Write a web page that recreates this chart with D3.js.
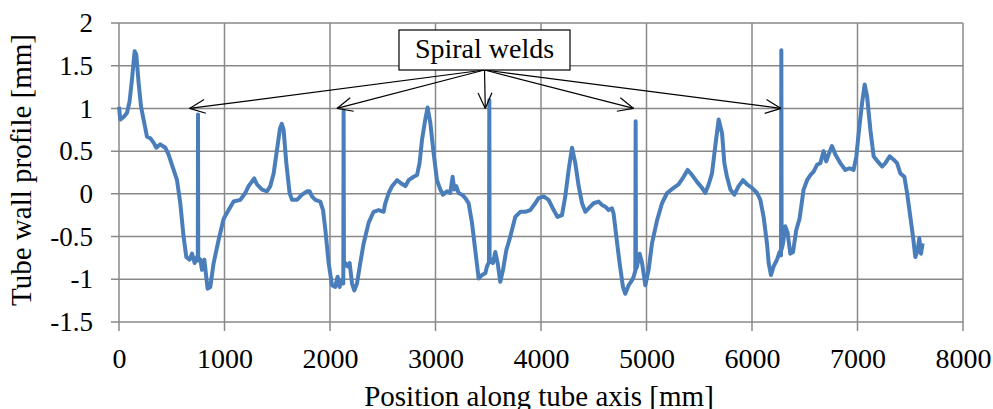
<!DOCTYPE html>
<html>
<head>
<meta charset="utf-8">
<title>tube wall profile</title>
<script type="text/javascript" src="https://cdn.jsdelivr.net/npm/d3@7"></script>
<style>
body{margin:0;background:#fff;}
text{font-family:"Liberation Serif","Times New Roman",serif;fill:#000;}
</style>
</head>
<body>
<script type="text/javascript">

var pos = [0,12,44,76,100,123,148,164,186,209,233,265,297,328,354,391,439,470,502,550,581,612,638,669,692,717,739,747,749,751,771,787,809,827,840,865,897,944,992,1039,1086,1150,1197,1228,1282,1308,1356,1403,1434,1466,1498,1525,1543,1560,1586,1617,1640,1687,1735,1782,1807,1829,1861,1908,1934,1956,1987,2019,2050,2072,2091,2107,2126,2129,2132,2145,2167,2186,2209,2230,2256,2287,2319,2366,2413,2461,2508,2524,2556,2588,2635,2666,2714,2745,2793,2825,2849,2872,2903,2925,2951,2982,3014,3046,3071,3109,3140,3162,3178,3197,3219,3251,3283,3314,3346,3377,3409,3441,3472,3488,3507,3510,3513,3529,3545,3567,3589,3614,3640,3671,3709,3756,3804,3851,3898,3946,3977,4025,4072,4120,4157,4199,4230,4262,4294,4325,4357,4389,4420,4467,4499,4546,4578,4610,4641,4673,4688,4714,4745,4777,4799,4831,4863,4878,4894,4897,4900,4910,4935,4958,4989,5020,5052,5100,5147,5195,5257,5304,5352,5390,5432,5479,5526,5557,5589,5621,5652,5684,5716,5738,5763,5795,5833,5873,5915,5953,6000,6048,6079,6110,6142,6158,6180,6205,6237,6262,6275,6278,6281,6294,6316,6338,6363,6389,6420,6451,6489,6522,6553,6584,6616,6648,6679,6704,6726,6758,6790,6837,6885,6925,6963,6989,7011,7043,7068,7091,7122,7153,7191,7233,7264,7305,7343,7375,7406,7444,7470,7501,7526,7548,7570,7586,7602,7617];
var profile = [1.02,0.87,0.90,0.95,1.08,1.34,1.67,1.63,1.30,1.02,0.87,0.67,0.65,0.60,0.54,0.58,0.54,0.46,0.34,0.16,-0.11,-0.50,-0.74,-0.77,-0.70,-0.81,-0.74,-0.78,0.93,-0.75,-0.77,-0.89,-0.77,-0.97,-1.11,-1.09,-0.81,-0.54,-0.29,-0.19,-0.09,-0.07,0.01,0.09,0.18,0.11,0.05,0.03,0.09,0.24,0.52,0.76,0.82,0.75,0.36,0.01,-0.07,-0.07,-0.01,0.03,0.03,-0.03,-0.07,-0.09,-0.19,-0.42,-0.81,-1.07,-1.09,-0.97,-1.09,-1.01,-1.05,0.97,-0.85,-0.81,-0.85,-0.81,-1.05,-1.13,-1.05,-0.81,-0.58,-0.34,-0.21,-0.19,-0.21,-0.11,0.01,0.09,0.16,0.13,0.09,0.16,0.20,0.22,0.36,0.63,0.87,1.01,0.83,0.48,0.16,0.05,-0.01,0.03,0.01,0.20,0.05,0.09,0.01,-0.01,-0.05,-0.11,-0.34,-0.66,-0.99,-0.95,-0.93,-0.85,-0.80,1.10,-0.80,-0.77,-0.81,-0.68,-0.81,-1.03,-0.89,-0.66,-0.50,-0.27,-0.21,-0.21,-0.19,-0.11,-0.05,-0.03,-0.07,-0.19,-0.27,-0.25,-0.03,0.28,0.54,0.36,0.09,-0.11,-0.21,-0.15,-0.11,-0.09,-0.13,-0.15,-0.19,-0.17,-0.23,-0.50,-0.81,-1.09,-1.17,-1.07,-1.01,-0.97,-0.90,0.85,-0.88,-0.85,-0.70,-0.81,-1.07,-0.89,-0.58,-0.31,-0.11,0.01,0.07,0.11,0.20,0.28,0.22,0.14,0.07,0.01,0.11,0.24,0.56,0.87,0.71,0.36,0.20,0.05,-0.01,0.09,0.16,0.11,0.07,0.01,-0.07,-0.27,-0.58,-0.81,-0.95,-0.85,-0.77,-0.68,-0.72,1.68,-0.65,-0.58,-0.38,-0.46,-0.70,-0.68,-0.42,-0.29,0.05,0.16,0.22,0.26,0.34,0.36,0.50,0.38,0.46,0.56,0.46,0.36,0.28,0.30,0.28,0.44,0.71,1.06,1.28,1.14,0.75,0.44,0.38,0.32,0.36,0.44,0.40,0.36,0.24,0.20,0.01,-0.27,-0.50,-0.74,-0.66,-0.52,-0.70,-0.58];

var xTicks = [0,1000,2000,3000,4000,5000,6000,7000,8000];
var yTicks = [2,1.5,1,0.5,0,-0.5,-1,-1.5];
var weldPos = [669,2066,3472,4878,6275];
var weldLevel = 1.0;
var labelText = "Spiral welds";

var width = 993, height = 409,
	pl = 119, pr = 963, pt = 23, pb = 322;

var x = d3.scaleLinear().domain([0,8000]).range([pl,pr]);
var y = d3.scaleLinear().domain([-1.5,2]).range([pb,pt]);

var svg = d3.select("body").append("svg")
	.attr("width",width)
	.attr("height",height);

// grid
svg.append("g").selectAll("line")
	.data(xTicks)
	.enter().append("line")
	.attr("x1",function(d){return x(d);})
	.attr("x2",function(d){return x(d);})
	.attr("y1",pt).attr("y2",pb+9)
	.attr("stroke","#888").attr("stroke-width",1.5);
svg.append("g").selectAll("line")
	.data(yTicks)
	.enter().append("line")
	.attr("y1",function(d){return y(d);})
	.attr("y2",function(d){return y(d);})
	.attr("x1",pl-8).attr("x2",pr)
	.attr("stroke","#888").attr("stroke-width",1.5);

var ax = d3.axisBottom(x).tickValues(xTicks).tickSize(0).tickFormat(d3.format("d"));
svg.append("g")
	.attr("transform","translate(0,"+pb+")")
	.call(ax)
	.call(function(g){g.select(".domain").remove();})
	.selectAll("text")
	.attr("dy","0")
	.attr("y",46)
	.style("font-size","28px");

var ay = d3.axisLeft(y).tickValues(yTicks).tickSize(0).tickPadding(26).tickFormat(function(d){return String(d);});
svg.append("g")
	.attr("transform","translate("+pl+",0)")
	.call(ay)
	.call(function(g){g.select(".domain").remove();})
	.selectAll("text")
	.style("font-size","27px");

svg.append("text")
	.attr("x",539).attr("y",406)
	.attr("text-anchor","middle")
	.style("font-size","29px")
	.text("Position along tube axis [mm]");

svg.append("text")
	.attr("transform","translate(31,170) rotate(-90)")
	.attr("text-anchor","middle")
	.style("font-size","29px")
	.text("Tube wall profile [mm]");

var line = d3.line()
	.x(function(d){return x(d[0]);})
	.y(function(d){return y(d[1]);});

svg.append("path")
	.datum(d3.zip(pos,profile))
	.attr("d",line)
	.attr("fill","none")
	.attr("stroke","#4a7ebb")
	.attr("stroke-width",4)
	.attr("stroke-linejoin","round");

// annotation
var bx = 399, by = 30, bw = 171, bh = 40;
var sx = bx+bw/2, sy = by+bh;
var ann = svg.append("g");
weldPos.forEach(function(p){
	var tx = x(p), ty = y(weldLevel);
	var ang = Math.atan2(sy-ty,sx-tx);
	ann.append("line")
		.attr("x1",sx).attr("y1",sy).attr("x2",tx).attr("y2",ty)
		.attr("stroke","#000").attr("stroke-width",1.2);
	[-0.42,0.42].forEach(function(a){
		ann.append("line")
			.attr("x1",tx).attr("y1",ty)
			.attr("x2",tx+17*Math.cos(ang+a)).attr("y2",ty+17*Math.sin(ang+a))
			.attr("stroke","#000").attr("stroke-width",1.2);
	});
});
ann.append("rect")
	.attr("x",bx).attr("y",by).attr("width",bw).attr("height",bh)
	.attr("fill","#fff").attr("stroke","#000").attr("stroke-width",1.2);
ann.append("text")
	.attr("x",sx).attr("y",by+28)
	.attr("text-anchor","middle")
	.style("font-size","28px")
	.text(labelText);

</script>
</body>
</html>
